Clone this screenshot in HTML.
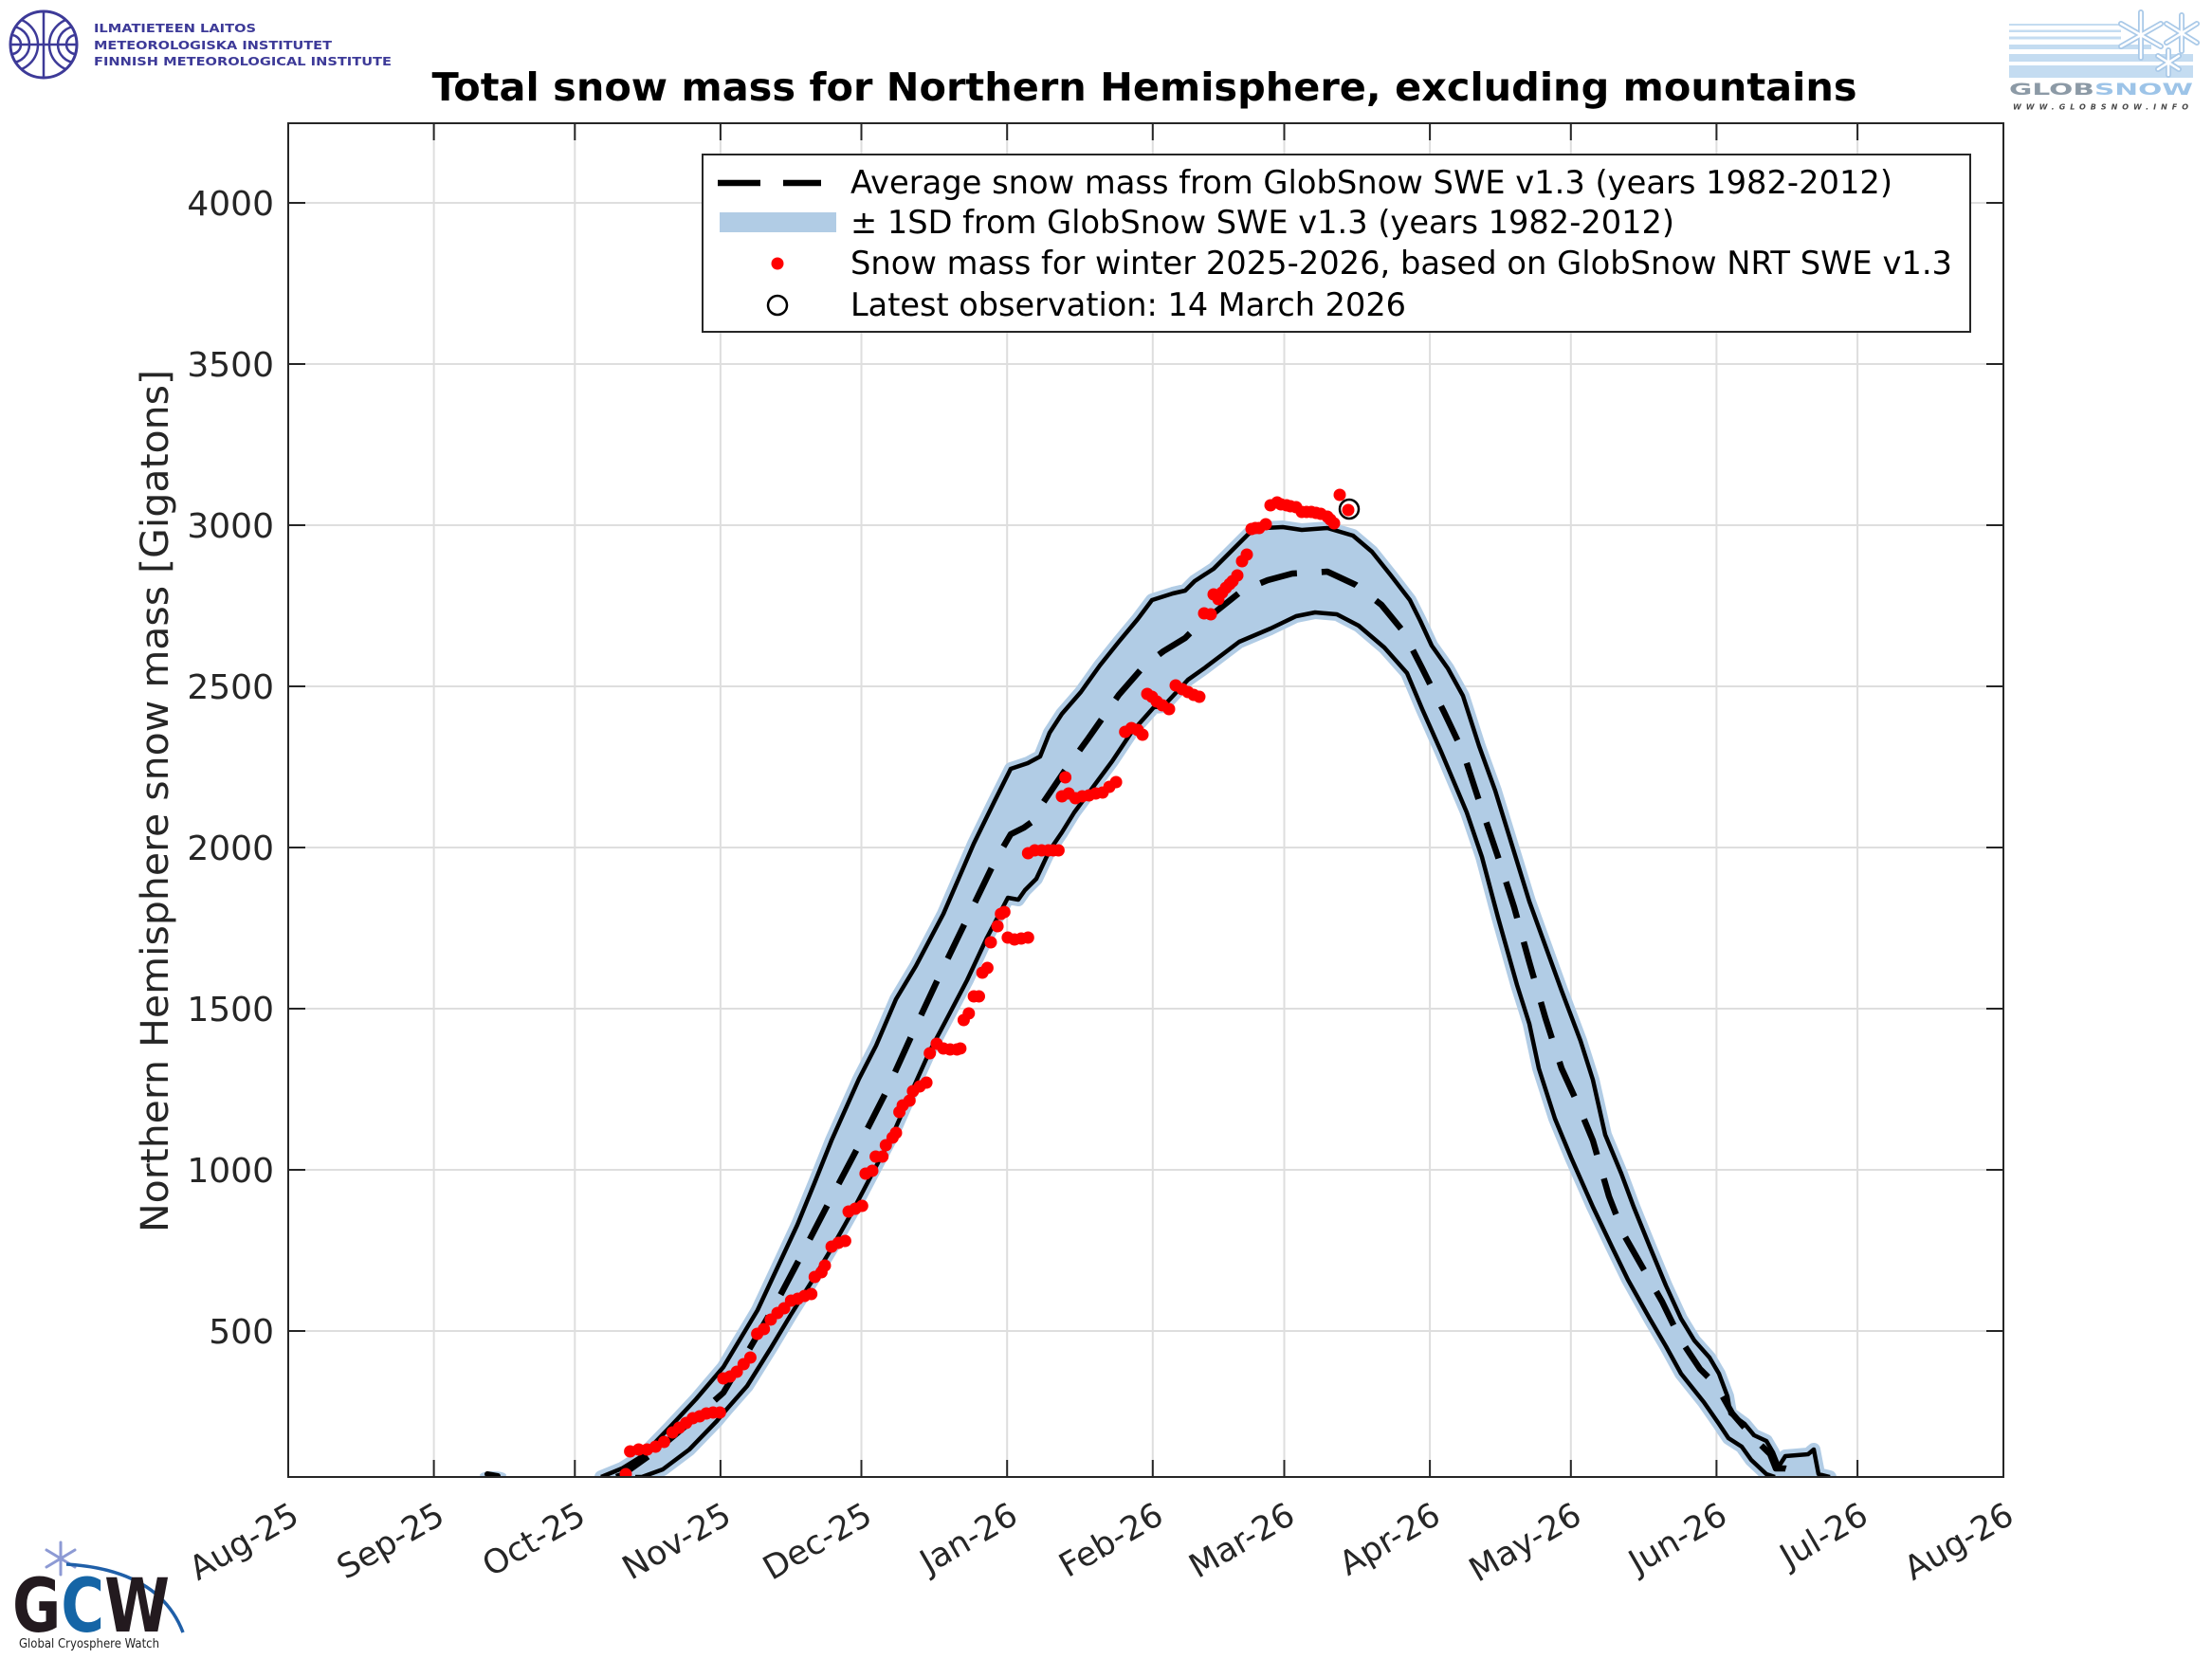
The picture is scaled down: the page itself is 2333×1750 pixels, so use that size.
<!DOCTYPE html>
<html>
<head>
<meta charset="utf-8">
<style>
html,body{margin:0;padding:0;background:#fff;}
svg{display:block;}
text{font-family:"DejaVu Sans","Liberation Sans",sans-serif;}
</style>
</head>
<body>
<svg width="2333" height="1750" viewBox="0 0 2333 1750" xmlns="http://www.w3.org/2000/svg">
<defs>
<clipPath id="plot"><rect x="304" y="130" width="1809" height="1428"/></clipPath>
<clipPath id="fmic"><circle cx="46" cy="47" r="34"/></clipPath>
</defs>
<rect x="0" y="0" width="2333" height="1750" fill="#fff"/>

<!-- FMI logo -->
<g>
<circle cx="46" cy="47" r="35" fill="none" stroke="#3d3a98" stroke-width="3"/>
<g clip-path="url(#fmic)" fill="none" stroke="#3d3a98" stroke-width="2.5">
<circle cx="12" cy="47" r="10"/><circle cx="12" cy="47" r="19"/><circle cx="12" cy="47" r="28"/>
<circle cx="80" cy="47" r="10"/><circle cx="80" cy="47" r="19"/><circle cx="80" cy="47" r="28"/>
<line x1="46" y1="10" x2="46" y2="84"/>
<line x1="10" y1="47" x2="82" y2="47"/>
</g>
<g fill="#3d3a98" font-weight="bold" font-size="12">
<text x="99" y="34" textLength="171" lengthAdjust="spacingAndGlyphs">ILMATIETEEN LAITOS</text>
<text x="99" y="52" textLength="251" lengthAdjust="spacingAndGlyphs">METEOROLOGISKA INSTITUTET</text>
<text x="99" y="69" textLength="314" lengthAdjust="spacingAndGlyphs">FINNISH METEOROLOGICAL INSTITUTE</text>
</g>
</g>

<!-- GlobSnow logo -->
<g>
<g fill="#c4dcf1">
<rect x="2119" y="25" width="118" height="2"/>
<rect x="2119" y="31.5" width="118" height="2.5"/>
<rect x="2119" y="38.5" width="118" height="3"/>
<rect x="2119" y="47" width="150" height="5"/>
<rect x="2119" y="57" width="194" height="8"/>
<rect x="2119" y="69" width="194" height="13"/>
</g>
<g stroke="#a9c9e8" stroke-width="6" stroke-linecap="round">
<line x1="2258" y1="13" x2="2258" y2="61"/><line x1="2237" y1="25" x2="2279" y2="49"/><line x1="2237" y1="49" x2="2279" y2="25"/>
<line x1="2301" y1="16" x2="2301" y2="54"/><line x1="2285" y1="25" x2="2317" y2="45"/><line x1="2285" y1="45" x2="2317" y2="25"/>
<line x1="2287" y1="53" x2="2287" y2="79"/><line x1="2276" y1="59" x2="2298" y2="73"/><line x1="2276" y1="73" x2="2298" y2="59"/>
</g>
<g stroke="#ffffff" stroke-width="2.5" stroke-linecap="round">
<line x1="2258" y1="13" x2="2258" y2="61"/><line x1="2237" y1="25" x2="2279" y2="49"/><line x1="2237" y1="49" x2="2279" y2="25"/>
<line x1="2301" y1="16" x2="2301" y2="54"/><line x1="2285" y1="25" x2="2317" y2="45"/><line x1="2285" y1="45" x2="2317" y2="25"/>
<line x1="2287" y1="53" x2="2287" y2="79"/><line x1="2276" y1="59" x2="2298" y2="73"/><line x1="2276" y1="73" x2="2298" y2="59"/>
</g>
<text x="2119" y="100" font-size="16.5" font-weight="bold" textLength="194" lengthAdjust="spacingAndGlyphs"><tspan fill="#8c9aa6">GLOB</tspan><tspan fill="#9dc4e8">SNOW</tspan></text>
<text x="2123" y="115.5" font-size="8" font-weight="bold" font-style="italic" fill="#4a4a4a" textLength="185" lengthAdjust="spacing">WWW.GLOBSNOW.INFO</text>
</g>

<!-- Title -->
<text x="1207" y="106" text-anchor="middle" font-size="41" font-weight="bold" fill="#000" textLength="1503" lengthAdjust="spacingAndGlyphs">Total snow mass for Northern Hemisphere, excluding mountains</text>

<!-- Grid -->
<g stroke="#dedede" stroke-width="2">
<line x1="457.6" y1="130" x2="457.6" y2="1558"/>
<line x1="606.3" y1="130" x2="606.3" y2="1558"/>
<line x1="759.9" y1="130" x2="759.9" y2="1558"/>
<line x1="908.5" y1="130" x2="908.5" y2="1558"/>
<line x1="1062.2" y1="130" x2="1062.2" y2="1558"/>
<line x1="1215.8" y1="130" x2="1215.8" y2="1558"/>
<line x1="1354.5" y1="130" x2="1354.5" y2="1558"/>
<line x1="1508.1" y1="130" x2="1508.1" y2="1558"/>
<line x1="1656.8" y1="130" x2="1656.8" y2="1558"/>
<line x1="1810.4" y1="130" x2="1810.4" y2="1558"/>
<line x1="1959.1" y1="130" x2="1959.1" y2="1558"/>
<line x1="304" y1="1404" x2="2113" y2="1404"/>
<line x1="304" y1="1234" x2="2113" y2="1234"/>
<line x1="304" y1="1064" x2="2113" y2="1064"/>
<line x1="304" y1="894" x2="2113" y2="894"/>
<line x1="304" y1="724" x2="2113" y2="724"/>
<line x1="304" y1="554" x2="2113" y2="554"/>
<line x1="304" y1="384" x2="2113" y2="384"/>
<line x1="304" y1="214" x2="2113" y2="214"/>
</g>

<!-- Data -->
<g clip-path="url(#plot)">
<ellipse cx="520" cy="1556" rx="14" ry="4" fill="#b1cce5"/>
<line x1="514" y1="1555" x2="525" y2="1557" stroke="#000" stroke-width="6" stroke-linecap="round"/>

<path fill="#b1cce5" fill-rule="evenodd" stroke="#b1cce5" stroke-width="14" stroke-linejoin="round"
d="M634,1558 L656,1549 L677,1536 L706,1506 L734,1476 L763,1442 L781,1412 L799,1382 L820,1337 L841,1292 L859,1248 L877,1203 L906,1138 L924,1103 L945,1054 L966,1019 L995,964 L1027,890 L1049,845 L1066,811 L1084,805 L1097,798 L1107,773 L1120,753 L1140,730 L1160,702 L1180,677 L1200,653 L1215,633 L1237,626 L1250,623 L1260,613 L1280,600 L1297,583 L1317,563 L1333,557 L1353,556 L1373,559 L1400,557 L1427,565 L1447,582 L1467,607 L1487,633 L1498,655 L1510,681 L1527,705 L1543,734 L1560,787 L1577,834 L1593,886 L1613,951 L1630,998 L1647,1045 L1667,1098 L1680,1139 L1693,1197 L1710,1238 L1723,1273 L1740,1315 L1757,1356 L1773,1391 L1787,1414 L1803,1432 L1813,1449 L1822,1473 L1825,1491 L1840,1502 L1850,1514 L1863,1520 L1870,1532 L1876,1547 L1883,1536 L1907,1534 L1913,1529 L1918,1555 L1930,1558 L1930,1600 L634,1600 Z
M670,1558 L677,1558 L699,1550 L727,1529 L756,1499 L766,1487 L788,1462 L813,1422 L834,1387 L856,1352 L877,1317 L899,1278 L920,1238 L941,1198 L963,1148 L981,1108 L999,1074 L1020,1034 L1041,989 L1063,947 L1074,949 L1081,939 L1093,927 L1107,897 L1120,878 L1133,857 L1153,830 L1173,803 L1193,773 L1217,746 L1227,745 L1253,717 L1270,705 L1307,677 L1340,663 L1367,650 L1387,646 L1410,648 L1433,660 L1460,683 L1484,710 L1500,748 L1520,793 L1547,857 L1563,904 L1580,968 L1600,1039 L1613,1080 L1623,1127 L1640,1180 L1657,1221 L1680,1273 L1700,1315 L1717,1350 L1740,1391 L1757,1420 L1773,1449 L1797,1479 L1813,1502 L1823,1517 L1837,1526 L1847,1540 L1863,1555 L1872,1558 L1872,1600 L670,1600 Z"/>

<!-- upper line -->
<path fill="none" stroke="#000" stroke-width="4.5" stroke-linejoin="round"
d="M634,1558 L656,1549 L677,1536 L706,1506 L734,1476 L763,1442 L781,1412 L799,1382 L820,1337 L841,1292 L859,1248 L877,1203 L906,1138 L924,1103 L945,1054 L966,1019 L995,964 L1027,890 L1049,845 L1066,811 L1084,805 L1097,798 L1107,773 L1120,753 L1140,730 L1160,702 L1180,677 L1200,653 L1215,633 L1237,626 L1250,623 L1260,613 L1280,600 L1297,583 L1317,563 L1333,557 L1353,556 L1373,559 L1400,557 L1427,565 L1447,582 L1467,607 L1487,633 L1498,655 L1510,681 L1527,705 L1543,734 L1560,787 L1577,834 L1593,886 L1613,951 L1630,998 L1647,1045 L1667,1098 L1680,1139 L1693,1197 L1710,1238 L1723,1273 L1740,1315 L1757,1356 L1773,1391 L1787,1414 L1803,1432 L1813,1449 L1822,1473 L1825,1491 L1840,1502 L1850,1514 L1863,1520 L1870,1532 L1876,1547 L1883,1536 L1907,1534 L1913,1529 L1918,1555 L1930,1558"/>
<!-- lower line -->
<path fill="none" stroke="#000" stroke-width="4.5" stroke-linejoin="round"
d="M670,1558 L677,1558 L699,1550 L727,1529 L756,1499 L766,1487 L788,1462 L813,1422 L834,1387 L856,1352 L877,1317 L899,1278 L920,1238 L941,1198 L963,1148 L981,1108 L999,1074 L1020,1034 L1041,989 L1063,947 L1074,949 L1081,939 L1093,927 L1107,897 L1120,878 L1133,857 L1153,830 L1173,803 L1193,773 L1217,746 L1227,745 L1253,717 L1270,705 L1307,677 L1340,663 L1367,650 L1387,646 L1410,648 L1433,660 L1460,683 L1484,710 L1500,748 L1520,793 L1547,857 L1563,904 L1580,968 L1600,1039 L1613,1080 L1623,1127 L1640,1180 L1657,1221 L1680,1273 L1700,1315 L1717,1350 L1740,1391 L1757,1420 L1773,1449 L1797,1479 L1813,1502 L1823,1517 L1837,1526 L1847,1540 L1863,1555 L1872,1558"/>
<!-- mean dashed -->
<path fill="none" stroke="#000" stroke-width="6.5" stroke-dasharray="40 26" stroke-linejoin="round"
d="M650,1558 L656,1556 L691,1531 L727,1501 L763,1469 L791,1422 L820,1372 L849,1317 L877,1263 L906,1208 L934,1153 L963,1089 L991,1029 L1020,969 L1049,909 L1066,880 L1080,873 L1091,865 L1100,847 L1123,813 L1147,780 L1180,733 L1207,702 L1227,687 L1250,673 L1260,663 L1280,647 L1310,623 L1337,612 L1363,605 L1400,603 L1430,617 L1457,638 L1480,666 L1500,705 L1523,751 L1543,793 L1560,845 L1580,904 L1597,957 L1613,1015 L1630,1074 L1647,1127 L1663,1162 L1680,1203 L1697,1262 L1713,1303 L1733,1338 L1753,1373 L1773,1414 L1793,1444 L1810,1461 L1827,1491 L1847,1514 L1867,1534 L1873,1549 L1883,1549 L1893,1552"/>

<!-- red dots -->
<g fill="#ff0000">
<circle cx="660" cy="1555" r="6.5"/>
<circle cx="664.6" cy="1531" r="6.5"/>
<circle cx="673.6" cy="1529" r="6.5"/>
<circle cx="682.5" cy="1529" r="6.5"/>
<circle cx="691.4" cy="1526" r="6.5"/>
<circle cx="700.4" cy="1521" r="6.5"/>
<circle cx="709.3" cy="1511" r="6.5"/>
<circle cx="716.4" cy="1506" r="6.5"/>
<circle cx="723.6" cy="1501" r="6.5"/>
<circle cx="730.7" cy="1496" r="6.5"/>
<circle cx="737.9" cy="1494" r="6.5"/>
<circle cx="745" cy="1491" r="6.5"/>
<circle cx="752.1" cy="1490" r="6.5"/>
<circle cx="759.3" cy="1490" r="6.5"/>
<circle cx="762.9" cy="1454" r="6.5"/>
<circle cx="770" cy="1452" r="6.5"/>
<circle cx="777.1" cy="1447" r="6.5"/>
<circle cx="784.3" cy="1439" r="6.5"/>
<circle cx="791.4" cy="1432" r="6.5"/>
<circle cx="798.6" cy="1407" r="6.5"/>
<circle cx="805.7" cy="1402" r="6.5"/>
<circle cx="812.9" cy="1392" r="6.5"/>
<circle cx="820" cy="1385" r="6.5"/>
<circle cx="827.1" cy="1380" r="6.5"/>
<circle cx="834.3" cy="1372" r="6.5"/>
<circle cx="841.4" cy="1370" r="6.5"/>
<circle cx="848.6" cy="1367" r="6.5"/>
<circle cx="855.7" cy="1365" r="6.5"/>
<circle cx="859.3" cy="1347" r="6.5"/>
<circle cx="866.4" cy="1342" r="6.5"/>
<circle cx="870" cy="1335" r="6.5"/>
<circle cx="877.1" cy="1315" r="6.5"/>
<circle cx="884.3" cy="1311" r="6.5"/>
<circle cx="891.4" cy="1309" r="6.5"/>
<circle cx="895" cy="1278" r="6.5"/>
<circle cx="902.1" cy="1275" r="6.5"/>
<circle cx="909.3" cy="1272" r="6.5"/>
<circle cx="912.9" cy="1238" r="6.5"/>
<circle cx="920" cy="1235" r="6.5"/>
<circle cx="923.6" cy="1220" r="6.5"/>
<circle cx="930.7" cy="1220" r="6.5"/>
<circle cx="934.3" cy="1208" r="6.5"/>
<circle cx="941.4" cy="1200" r="6.5"/>
<circle cx="945" cy="1195" r="6.5"/>
<circle cx="948.6" cy="1173" r="6.5"/>
<circle cx="952.1" cy="1166" r="6.5"/>
<circle cx="959.3" cy="1161" r="6.5"/>
<circle cx="962.9" cy="1151" r="6.5"/>
<circle cx="970" cy="1146" r="6.5"/>
<circle cx="977.1" cy="1142" r="6.5"/>
<circle cx="980.7" cy="1111" r="6.5"/>
<circle cx="987.9" cy="1101" r="6.5"/>
<circle cx="995" cy="1106" r="6.5"/>
<circle cx="1002.1" cy="1107" r="6.5"/>
<circle cx="1009.3" cy="1107" r="6.5"/>
<circle cx="1012.9" cy="1106" r="6.5"/>
<circle cx="1016.4" cy="1076" r="6.5"/>
<circle cx="1021.8" cy="1069" r="6.5"/>
<circle cx="1027.1" cy="1051" r="6.5"/>
<circle cx="1032.5" cy="1051" r="6.5"/>
<circle cx="1036.1" cy="1026" r="6.5"/>
<circle cx="1041.4" cy="1021" r="6.5"/>
<circle cx="1045" cy="994" r="6.5"/>
<circle cx="1052.1" cy="977" r="6.5"/>
<circle cx="1055.7" cy="964" r="6.5"/>
<circle cx="1059.3" cy="962" r="6.5"/>
<circle cx="1062.9" cy="989" r="6.5"/>
<circle cx="1070" cy="991" r="6.5"/>
<circle cx="1077.1" cy="990" r="6.5"/>
<circle cx="1084.3" cy="989" r="6.5"/>
<circle cx="1084.3" cy="900" r="6.5"/>
<circle cx="1091.4" cy="897" r="6.5"/>
<circle cx="1098.6" cy="897" r="6.5"/>
<circle cx="1105.7" cy="897" r="6.5"/>
<circle cx="1111" cy="897" r="6.5"/>
<circle cx="1116.4" cy="897" r="6.5"/>
<circle cx="1120" cy="840" r="6.5"/>
<circle cx="1123.6" cy="820" r="6.5"/>
<circle cx="1127.1" cy="837" r="6.5"/>
<circle cx="1134.3" cy="842" r="6.5"/>
<circle cx="1141.4" cy="840" r="6.5"/>
<circle cx="1148.6" cy="839" r="6.5"/>
<circle cx="1155.7" cy="837" r="6.5"/>
<circle cx="1162.9" cy="836" r="6.5"/>
<circle cx="1170" cy="830" r="6.5"/>
<circle cx="1177.1" cy="825" r="6.5"/>
<circle cx="1186.7" cy="772" r="6.5"/>
<circle cx="1193.3" cy="768" r="6.5"/>
<circle cx="1200" cy="770" r="6.5"/>
<circle cx="1205" cy="775" r="6.5"/>
<circle cx="1210" cy="732" r="6.5"/>
<circle cx="1215" cy="735" r="6.5"/>
<circle cx="1220" cy="740" r="6.5"/>
<circle cx="1226" cy="744" r="6.5"/>
<circle cx="1233" cy="748" r="6.5"/>
<circle cx="1240" cy="723" r="6.5"/>
<circle cx="1247" cy="727" r="6.5"/>
<circle cx="1253" cy="730" r="6.5"/>
<circle cx="1259" cy="733" r="6.5"/>
<circle cx="1265" cy="735" r="6.5"/>
<circle cx="1270" cy="647" r="6.5"/>
<circle cx="1277" cy="648" r="6.5"/>
<circle cx="1280" cy="627" r="6.5"/>
<circle cx="1285" cy="632" r="6.5"/>
<circle cx="1289" cy="625" r="6.5"/>
<circle cx="1293" cy="620" r="6.5"/>
<circle cx="1297" cy="616" r="6.5"/>
<circle cx="1300" cy="613" r="6.5"/>
<circle cx="1305" cy="607" r="6.5"/>
<circle cx="1310" cy="592" r="6.5"/>
<circle cx="1315" cy="585" r="6.5"/>
<circle cx="1320" cy="558" r="6.5"/>
<circle cx="1324" cy="557" r="6.5"/>
<circle cx="1328" cy="557" r="6.5"/>
<circle cx="1335" cy="553" r="6.5"/>
<circle cx="1340" cy="533" r="6.5"/>
<circle cx="1347" cy="530" r="6.5"/>
<circle cx="1351" cy="532" r="6.5"/>
<circle cx="1357" cy="533" r="6.5"/>
<circle cx="1361" cy="534" r="6.5"/>
<circle cx="1367" cy="535" r="6.5"/>
<circle cx="1373" cy="540" r="6.5"/>
<circle cx="1378" cy="540" r="6.5"/>
<circle cx="1383" cy="540" r="6.5"/>
<circle cx="1388" cy="541" r="6.5"/>
<circle cx="1393" cy="542" r="6.5"/>
<circle cx="1400" cy="545" r="6.5"/>
<circle cx="1403" cy="548" r="6.5"/>
<circle cx="1407" cy="552" r="6.5"/>
<circle cx="1413" cy="522" r="6.5"/>
<circle cx="1422" cy="538" r="6.5"/>
</g>
<circle cx="1423" cy="537" r="10" fill="none" stroke="#000" stroke-width="2.5"/>
</g>

<!-- Axes box and ticks -->
<g stroke="#262626" stroke-width="2" fill="none">
<rect x="304" y="130" width="1809" height="1428"/>
<path d="M457.6,1558v-18 M606.3,1558v-18 M759.9,1558v-18 M908.5,1558v-18 M1062.2,1558v-18 M1215.8,1558v-18 M1354.5,1558v-18 M1508.1,1558v-18 M1656.8,1558v-18 M1810.4,1558v-18 M1959.1,1558v-18
M457.6,130v18 M606.3,130v18 M759.9,130v18 M908.5,130v18 M1062.2,130v18 M1215.8,130v18 M1354.5,130v18 M1508.1,130v18 M1656.8,130v18 M1810.4,130v18 M1959.1,130v18
M304,1404h18 M304,1234h18 M304,1064h18 M304,894h18 M304,724h18 M304,554h18 M304,384h18 M304,214h18
M2113,1404h-18 M2113,1234h-18 M2113,1064h-18 M2113,894h-18 M2113,724h-18 M2113,554h-18 M2113,384h-18 M2113,214h-18"/>
</g>

<!-- Y tick labels -->
<g font-size="36" fill="#262626" text-anchor="end">
<text x="289" y="1417">500</text>
<text x="289" y="1247">1000</text>
<text x="289" y="1077">1500</text>
<text x="289" y="907">2000</text>
<text x="289" y="737">2500</text>
<text x="289" y="567">3000</text>
<text x="289" y="397">3500</text>
<text x="289" y="227">4000</text>
</g>

<!-- X tick labels -->
<g font-size="35" fill="#262626" text-anchor="end">
<text transform="translate(317.5,1605) rotate(-30)">Aug-25</text>
<text transform="translate(471.1,1605) rotate(-30)">Sep-25</text>
<text transform="translate(619.8,1605) rotate(-30)">Oct-25</text>
<text transform="translate(773.4,1605) rotate(-30)">Nov-25</text>
<text transform="translate(922,1605) rotate(-30)">Dec-25</text>
<text transform="translate(1075.7,1605) rotate(-30)">Jan-26</text>
<text transform="translate(1229.3,1605) rotate(-30)">Feb-26</text>
<text transform="translate(1368,1605) rotate(-30)">Mar-26</text>
<text transform="translate(1521.6,1605) rotate(-30)">Apr-26</text>
<text transform="translate(1670.3,1605) rotate(-30)">May-26</text>
<text transform="translate(1823.9,1605) rotate(-30)">Jun-26</text>
<text transform="translate(1972.6,1605) rotate(-30)">Jul-26</text>
<text transform="translate(2126.2,1605) rotate(-30)">Aug-26</text>
</g>

<!-- Y label -->
<text transform="translate(177,845) rotate(-90)" text-anchor="middle" font-size="40" fill="#262626" textLength="910" lengthAdjust="spacingAndGlyphs">Northern Hemisphere snow mass [Gigatons]</text>

<!-- Legend -->
<g>
<rect x="741" y="163" width="1337" height="187" fill="#fff" stroke="#262626" stroke-width="2"/>
<line x1="757" y1="193" x2="802" y2="193" stroke="#000" stroke-width="6.5"/>
<line x1="826" y1="193" x2="866" y2="193" stroke="#000" stroke-width="6.5"/>
<rect x="759" y="224" width="123" height="21" fill="#b1cce5"/>
<circle cx="820" cy="278" r="6.5" fill="#ff0000"/>
<circle cx="820" cy="322" r="10" fill="none" stroke="#000" stroke-width="2.5"/>
<g font-size="34" fill="#000">
<text x="897" y="204" textLength="1099" lengthAdjust="spacingAndGlyphs">Average snow mass from GlobSnow SWE v1.3 (years 1982-2012)</text>
<text x="897" y="246" textLength="869" lengthAdjust="spacingAndGlyphs">± 1SD from GlobSnow SWE v1.3 (years 1982-2012)</text>
<text x="897" y="289" textLength="1162" lengthAdjust="spacingAndGlyphs">Snow mass for winter 2025-2026, based on GlobSnow NRT SWE v1.3</text>
<text x="897" y="333" textLength="586" lengthAdjust="spacingAndGlyphs">Latest observation: 14 March 2026</text>
</g>
</g>

<!-- GCW logo -->
<g>
<g stroke="#8d9ad4" stroke-width="3" stroke-linecap="round">
<line x1="64" y1="1627" x2="64" y2="1661"/>
<line x1="49" y1="1635" x2="79" y2="1653"/>
<line x1="49" y1="1653" x2="79" y2="1635"/>
</g>
<path d="M70,1650 Q168,1656 193,1722" fill="none" stroke="#1f5fa8" stroke-width="3.5"/>
<text x="13" y="1721" font-family="Liberation Sans, sans-serif" font-size="78" font-weight="bold" textLength="166" lengthAdjust="spacingAndGlyphs"><tspan fill="#231a1f">G</tspan><tspan fill="#1565a6">C</tspan><tspan fill="#231a1f">W</tspan></text>
<text x="20" y="1738" font-family="Liberation Sans, sans-serif" font-size="13" fill="#222" textLength="148" lengthAdjust="spacingAndGlyphs">Global Cryosphere Watch</text>
</g>
</svg>
</body>
</html>
